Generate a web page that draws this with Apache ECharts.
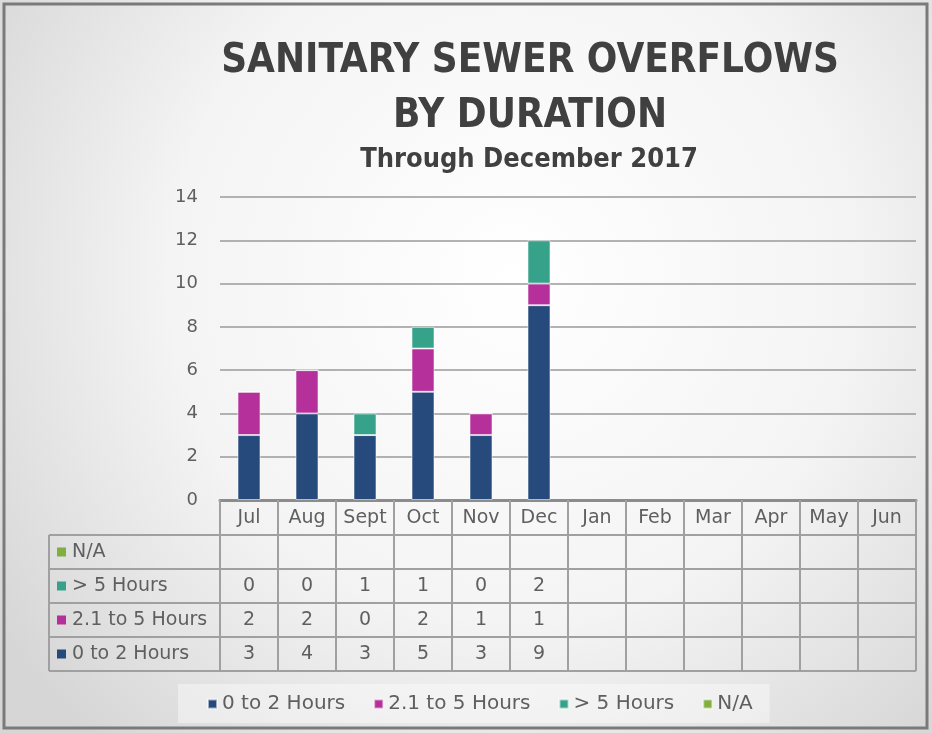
<!DOCTYPE html>
<html>
<head>
<meta charset="utf-8">
<script src="https://cdn.jsdelivr.net/npm/echarts@6/dist/echarts.min.js"></script>
<style>
  html, body { margin: 0; padding: 0; background: #fff; }
  #main { width: 932px; height: 733px; }
</style>
</head>
<body>
<div id="main"></div>
<script>
// data
const months = ['Jul', 'Aug', 'Sept', 'Oct', 'Nov', 'Dec', 'Jan', 'Feb', 'Mar', 'Apr', 'May', 'Jun'];
const upTo2Hours = [3, 4, 3, 5, 3, 9, null, null, null, null, null, null];
const from2To5Hours = [2, 2, 0, 2, 1, 1, null, null, null, null, null, null];
const over5Hours = [0, 0, 1, 1, 0, 2, null, null, null, null, null, null];
const notAvailable = [null, null, null, null, null, null, null, null, null, null, null, null];
const seriesNames = ['0 to 2 Hours', '2.1 to 5 Hours', '> 5 Hours', 'N/A'];
const seriesColors = ['#264a7c', '#b5309b', '#35a289', '#80ae3f'];
const yTicks = [0, 2, 4, 6, 8, 10, 12, 14];

const seriesData = [upTo2Hours, from2To5Hours, over5Hours, notAvailable];

const font = '"DejaVu Sans", sans-serif';
const titleFont = '"DejaVu Sans Condensed", "DejaVu Sans", sans-serif';
const textGray = '#5f5f5f';
const lineGray = '#a0a0a0';

// table geometry
const tableLeft = 49;
const plotLeft = 220;
const plotRight = 916;
const headTop = 501;
const headBottom = 535;
const rowH = 34;

const chart = echarts.init(document.getElementById('main'), null, { renderer: 'canvas' });

const option = {
    backgroundColor: {
        type: 'radial', x: 0.55, y: 0.38, r: 0.85,
        colorStops: [
            { offset: 0, color: '#ffffff' },
            { offset: 0.55, color: '#f4f4f4' },
            { offset: 1, color: '#d6d6d6' }
        ]
    },
    animation: false,
    title: [
        {
            text: 'SANITARY SEWER OVERFLOWS\nBY DURATION',
            left: 525,
            top: 29,
            textAlign: 'center',
            textStyle: {
                fontFamily: titleFont,
                fontWeight: 'bold',
                fontSize: 40,
                lineHeight: 55,
                color: '#404040'
            }
        },
        {
            text: 'Through December 2017',
            left: 524,
            top: 141,
            textAlign: 'center',
            textStyle: {
                fontFamily: titleFont,
                fontWeight: 'bold',
                fontSize: 27,
                color: '#404040'
            }
        }
    ],
    legend: {
        data: seriesNames,
        left: 178,
        top: 684,
        itemWidth: 9,
        itemHeight: 9,
        itemGap: 28,
        icon: 'rect',
        padding: [10, 17, 9, 29],
        backgroundColor: 'rgba(255,255,255,0.4)',
        textStyle: { fontFamily: font, fontSize: 20, color: textGray }
    },
    grid: {
        left: plotLeft,
        right: 932 - plotRight,
        top: 197,
        bottom: 733 - 500,
        containLabel: false
    },
    xAxis: {
        type: 'category',
        data: months,
        axisLine: { lineStyle: { color: '#8c8c8c', width: 3 } },
        axisTick: {
            show: true,
            length: 671 - 500,
            lineStyle: { color: lineGray, width: 2 }
        },
        axisLabel: {
            margin: 9,
            fontFamily: font,
            fontSize: 19,
            color: textGray
        }
    },
    yAxis: {
        type: 'value',
        min: yTicks[0],
        max: yTicks[yTicks.length - 1],
        interval: 2,
        axisLine: { show: false },
        axisTick: { show: false },
        axisLabel: { margin: 22, fontFamily: font, fontSize: 18, color: textGray },
        splitLine: { lineStyle: { color: '#9a9a9a', width: 1.5 } }
    },
    series: seriesNames.map((name, i) => ({
        name: name,
        type: 'bar',
        stack: 'total',
        barWidth: 23,
        data: seriesData[i],
        itemStyle: {
            color: seriesColors[i],
            borderColor: 'rgba(255,255,255,0.55)',
            borderWidth: 1
        }
    }))
};

chart.setOption(option);

// data table under the axis, laid out on the category scale
function buildTable() {
    const els = [];
    const tableBottom = headBottom + rowH * seriesNames.length;
    // horizontal rules
    els.push({ type: 'line', shape: { x1: plotLeft, y1: headTop, x2: plotRight, y2: headTop }, style: { stroke: lineGray, lineWidth: 2 } });
    for (let r = 0; r <= seriesNames.length; r++) {
        const y = headBottom + r * rowH;
        els.push({ type: 'line', shape: { x1: tableLeft, y1: y, x2: plotRight, y2: y }, style: { stroke: lineGray, lineWidth: 2 } });
    }
    els.push({ type: 'line', shape: { x1: tableLeft, y1: headBottom, x2: tableLeft, y2: tableBottom }, style: { stroke: lineGray, lineWidth: 2 } });

    // rows, top to bottom in reverse series order
    const order = [3, 2, 1, 0];
    order.forEach((si, r) => {
        const cy = headBottom + r * rowH + rowH / 2;
        els.push({ type: 'rect', shape: { x: 57, y: cy - 4.5, width: 9, height: 9 }, style: { fill: seriesColors[si] } });
        els.push({
            type: 'text', x: 72, y: cy,
            style: { text: seriesNames[si], fontFamily: font, fontSize: 19, fill: textGray, verticalAlign: 'middle', align: 'left' }
        });
        seriesData[si].forEach((v, ci) => {
            if (v == null) return;
            const cx = chart.convertToPixel({ xAxisIndex: 0 }, ci);
            els.push({
                type: 'text', x: cx, y: cy,
                style: { text: String(v), fontFamily: font, fontSize: 19, fill: textGray, align: 'center', verticalAlign: 'middle' }
            });
        });
    });

    // outer frame
    els.push({ type: 'rect', shape: { x: 4, y: 4, width: 923, height: 724 }, style: { fill: 'none', stroke: '#7a7a7a', lineWidth: 3 }, z: 100 });
    return els;
}

chart.setOption({ graphic: buildTable() });
</script>
</body>
</html>
